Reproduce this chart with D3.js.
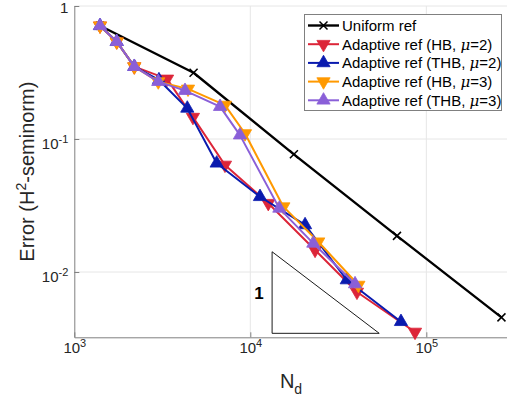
<!DOCTYPE html>
<html>
<head>
<meta charset="utf-8">
<script src="https://cdn.jsdelivr.net/npm/d3@7"></script>
<style>
  body { margin: 0; background: #fff; }
  text { font-family: "Liberation Sans", Arial, Helvetica, sans-serif; fill: #262626; }
</style>
</head>
<body>
<svg id="chart" width="507" height="402"></svg>
<script>
// ---- data ----
var xTicks = [1e3, 1e4, 1e5];
var xTickExp = ["3", "4", "5"];
var yTicks = [1e-2, 1e-1, 1];
var yTickExp = ["-2", "-1", ""];

var uniformN   = [1400, 4761, 17689, 68121, 267289];
var uniformErr = [0.71, 0.315, 0.0767, 0.0187, 0.00456];

var hb2N   = [1400, 1742, 2193, 3365, 4721, 7178, 12650, 23330, 40360, 86260];
var hb2Err = [0.71, 0.539, 0.350, 0.283, 0.146, 0.0638, 0.0329, 0.01463, 0.00708, 0.00354];

var thb2N   = [1400, 1742, 2193, 3027, 4385, 6442, 11350, 20470, 35330, 71780];
var thb2Err = [0.71, 0.539, 0.350, 0.278, 0.170, 0.0657, 0.0368, 0.0226, 0.00871, 0.00423];

var hb3N   = [1400, 1742, 2193, 3000, 4427, 7178, 9330, 15410, 24320, 41120];
var hb3Err = [0.71, 0.539, 0.350, 0.270, 0.238, 0.180, 0.110, 0.0310, 0.0169, 0.00798];

var thb3N   = [1400, 1742, 2193, 3000, 4256, 6730, 8733, 14620, 22800, 39360];
var thb3Err = [0.71, 0.539, 0.350, 0.270, 0.231, 0.175, 0.107, 0.0301, 0.01643, 0.00813];

var slopeN   = [13300, 54000];
var slopeErr = [0.0142, 0.00346];
var slopeLabel = "1";

var seriesNames = ["Uniform ref", "Adaptive ref (HB, ", "Adaptive ref (THB, ", "Adaptive ref (HB, ", "Adaptive ref (THB, "];
var seriesMu = ["", "2", "2", "3", "3"];

// ---- styles ----
var styles = [
  { color: "#000000", width: 2.4, marker: "cross" },
  { color: "#dc2538", width: 2, marker: "down" },
  { color: "#0a1aae", width: 2, marker: "up" },
  { color: "#ff9900", width: 2, marker: "down" },
  { color: "#8a5fd8", width: 2, marker: "up" }
];

var seriesData = [
  [uniformN, uniformErr], [hb2N, hb2Err], [thb2N, thb2Err], [hb3N, hb3Err], [thb3N, thb3Err]
].map(function (p) { return p[0].map(function (n, i) { return { n: n, e: p[1][i] }; }); });

var margin = { left: 74.3, top: 6, right: 507.7, bottom: 337.3 };

var svg = d3.select("#chart");
var x = d3.scaleLog().domain([1e3, 2.9e5]).range([margin.left, margin.right]);
var y = d3.scaleLog().domain([3.23e-3, 1]).range([margin.bottom, margin.top]);

// grid
var grid = svg.append("g").attr("class", "grid");
grid.selectAll("line.gx").data(xTicks.slice(1)).enter().append("line")
  .attr("x1", function (d) { return x(d); }).attr("x2", function (d) { return x(d); })
  .attr("y1", margin.top).attr("y2", margin.bottom)
  .style("stroke", "#e6e6e6").style("stroke-width", 1);
grid.selectAll("line.gy").data(yTicks).enter().append("line")
  .attr("y1", function (d) { return y(d); }).attr("y2", function (d) { return y(d); })
  .attr("x1", margin.left).attr("x2", margin.right)
  .style("stroke", "#e6e6e6").style("stroke-width", 1);

// axes
var xAxis = svg.append("g").attr("transform", "translate(0," + margin.bottom + ")")
  .call(d3.axisBottom(x).tickValues(xTicks).tickSizeInner(-5).tickSizeOuter(0).tickFormat(""));
var yAxis = svg.append("g").attr("transform", "translate(" + margin.left + ",0)")
  .call(d3.axisLeft(y).tickValues(yTicks).tickSizeInner(-5).tickSizeOuter(0).tickFormat(""));
[xAxis, yAxis].forEach(function (a) {
  a.selectAll("path.domain").style("stroke", "#808080");
  a.selectAll(".tick line").style("stroke", "#808080");
});

xAxis.selectAll(".tick text").remove();
xAxis.selectAll(".tick").each(function (d, i) {
  var t = d3.select(this).append("text").attr("x", 0).attr("y", 16)
    .style("text-anchor", "middle").style("font-size", "15px");
  t.append("tspan").text("10");
  t.append("tspan").attr("dy", -6).style("font-size", "11px").text(xTickExp[i]);
});

yAxis.selectAll(".tick text").remove();
yAxis.selectAll(".tick").each(function (d, i) {
  var t = d3.select(this).append("text").attr("x", -6)
    .style("text-anchor", "end").style("font-size", "15px");
  if (yTickExp[i] === "") {
    t.attr("y", 6.5).text("1");
  } else {
    t.attr("y", 9);
    t.append("tspan").text("10");
    t.append("tspan").attr("dy", -6).style("font-size", "11px").text(yTickExp[i]);
  }
});

// axis labels
var yl = svg.append("text")
  .attr("transform", "translate(34," + ((margin.top + margin.bottom) / 2) + ") rotate(-90)")
  .style("text-anchor", "middle").style("font-size", "20px");
yl.append("tspan").text("Error (H");
yl.append("tspan").attr("dy", -8).style("font-size", "14px").text("2");
yl.append("tspan").attr("dy", 8).text("-seminorm)");

var xl = svg.append("text")
  .attr("x", (margin.left + margin.right) / 2).attr("y", 388)
  .style("text-anchor", "middle").style("font-size", "20px");
xl.append("tspan").text("N");
xl.append("tspan").attr("dy", 6).style("font-size", "14px").text("d");

// slope triangle
svg.append("path")
  .attr("d", "M" + x(slopeN[0]) + "," + y(slopeErr[0]) +
             "L" + x(slopeN[0]) + "," + y(slopeErr[1]) +
             "L" + x(slopeN[1]) + "," + y(slopeErr[1]) + "Z")
  .style("fill", "none").style("stroke", "#000").style("stroke-width", 0.9);
svg.append("text")
  .attr("x", x(slopeN[0]) - 13).attr("y", y(Math.sqrt(slopeErr[0] * slopeErr[1])) + 6)
  .style("text-anchor", "middle").style("font-size", "17px").style("font-weight", "bold")
  .style("fill", "#000").text(slopeLabel);

// markers
var triUp = d3.symbol().type(d3.symbolTriangle).size(76)();
function drawMarker(g, kind, color) {
  if (kind === "cross") {
    g.append("path").attr("d", "M-4,-4L4,4M-4,4L4,-4")
      .style("stroke", color).style("stroke-width", 1.5).style("fill", "none");
  } else {
    g.append("path").attr("d", triUp)
      .attr("transform", kind === "down" ? "rotate(180)" : null)
      .style("fill", color).style("stroke", color).style("stroke-width", 0.8);
  }
}

var line = d3.line().x(function (d) { return x(d.n); }).y(function (d) { return y(d.e); });

seriesData.forEach(function (data, k) {
  var s = styles[k];
  var g = svg.append("g").attr("class", "series");
  g.append("path").datum(data).attr("d", line)
    .style("fill", "none").style("stroke", s.color).style("stroke-width", s.width)
    .style("stroke-linejoin", "round");
  g.selectAll("g.m").data(data).enter().append("g")
    .attr("transform", function (d) { return "translate(" + x(d.n) + "," + y(d.e) + ")"; })
    .each(function () { drawMarker(d3.select(this), s.marker, s.color); });
});

// legend
var legend = svg.append("g").attr("class", "legend");
legend.append("rect").attr("x", 304.5).attr("y", 14.5).attr("width", 197).attr("height", 96)
  .style("fill", "#fff").style("stroke", "#808080").style("stroke-width", 1);
seriesNames.forEach(function (name, k) {
  var s = styles[k];
  var cy = 25.5 + k * 18.7;
  var row = legend.append("g").attr("transform", "translate(0," + cy + ")");
  row.append("line").attr("x1", 308).attr("x2", 339).attr("y1", 0).attr("y2", 0)
    .style("stroke", s.color).style("stroke-width", s.width);
  var m = row.append("g").attr("transform", "translate(323.5,0)");
  drawMarker(m, s.marker, s.color);
  var t = row.append("text").attr("x", 342).attr("y", 5.5).style("font-size", "15px").style("fill", "#000");
  t.append("tspan").text(name);
  if (seriesMu[k] !== "") {
    t.append("tspan").style("font-style", "italic").style("font-family", "'DejaVu Serif', 'Liberation Serif', serif").text("\u03bc");
    t.append("tspan").text("=" + seriesMu[k] + ")");
  }
});
</script>
</body>
</html>
